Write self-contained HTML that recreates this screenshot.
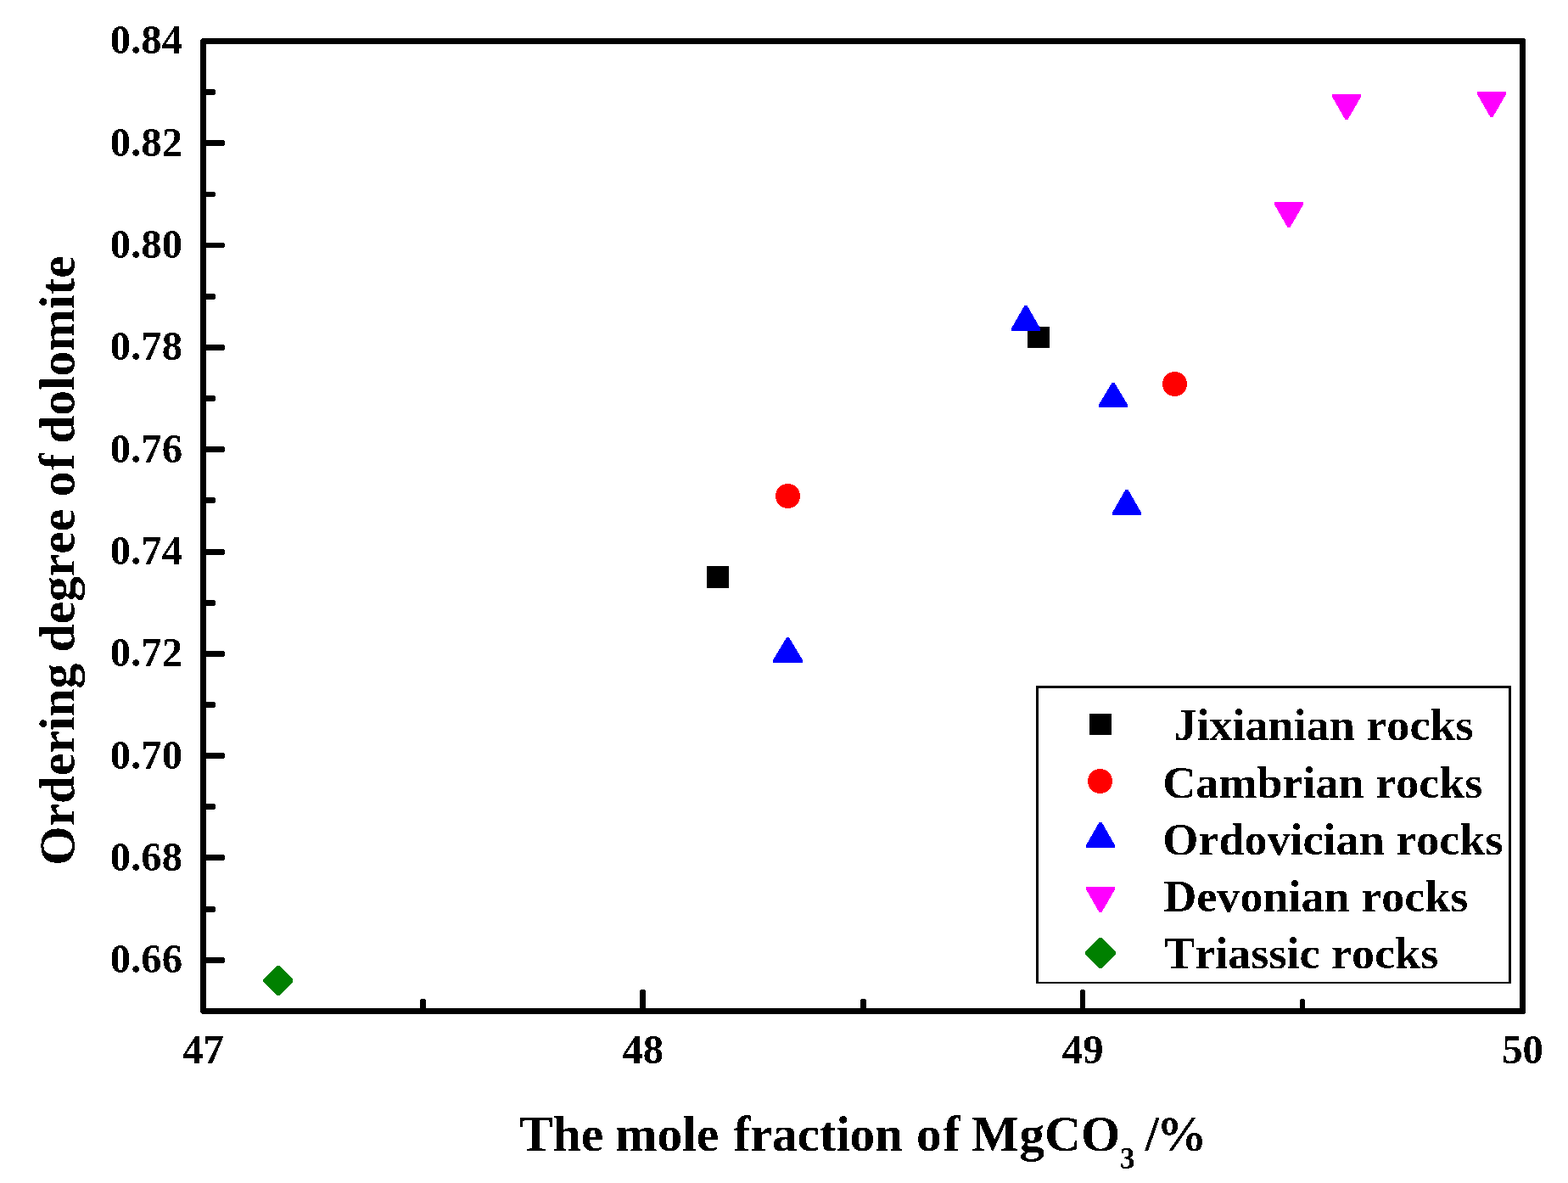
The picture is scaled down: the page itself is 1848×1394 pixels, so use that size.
<!DOCTYPE html>
<html lang="en"><head><meta charset="utf-8"><title>Ordering degree of dolomite vs mole fraction of MgCO3</title>
<style>
html,body{margin:0;padding:0;background:#fff;}
body{width:1848px;height:1394px;overflow:hidden;}
svg{display:block;}
text{font-family:"Liberation Serif",serif;font-weight:700;fill:#000;font-kerning:none;}
.tk{font-size:48.7px;}
.tt{font-size:59.5px;}
.lg{font-size:54.1px;}
.ax{fill:#000;shape-rendering:crispEdges;}
</style></head><body>
<svg width="1848" height="1394" viewBox="0 0 1848 1394">
<defs><filter id="bw" x="0" y="0" width="1848" height="1394" filterUnits="userSpaceOnUse" color-interpolation-filters="sRGB"><feComponentTransfer><feFuncA type="discrete" tableValues="0 1"/></feComponentTransfer></filter></defs>
<rect x="0" y="0" width="1848" height="1394" fill="#fff"/>
<g id="data" shape-rendering="crispEdges">
<rect x="833" y="667" width="26" height="26" fill="#000" shape-rendering="crispEdges"/>
<rect x="1211" y="385" width="26" height="25" fill="#000" shape-rendering="crispEdges"/>
<circle cx="928.5" cy="584.5" r="14.5" fill="#f00"/>
<circle cx="1384.5" cy="452.5" r="14.5" fill="#f00"/>
<polygon points="927,751 930,751 946,778 946,781 911,781 911,778" fill="#00f"/>
<polygon points="1207.5,360 1210.5,360 1226,387 1226,390 1192,390 1192,387" fill="#00f"/>
<polygon points="1310.5,451 1313.5,451 1329,477 1329,480 1295,480 1295,477" fill="#00f"/>
<polygon points="1326.5,577 1329.5,577 1345,604 1345,607 1311,607 1311,604" fill="#00f"/>
<polygon points="1502,238 1536,238 1536,241 1520.5,268 1517.5,268 1502,241" fill="#f0f"/>
<polygon points="1570,111 1604,111 1604,114 1588.5,141 1585.5,141 1570,114" fill="#f0f"/>
<polygon points="1741,108 1775,108 1775,111 1759.5,138 1756.5,138 1741,111" fill="#f0f"/>
<polygon points="326,1138 329,1138 345,1154 345,1157 329,1173 326,1173 310,1157 310,1154" fill="#008000"/>
</g>
<g id="legend" shape-rendering="crispEdges">
<path class="ax" fill-rule="evenodd" d="M1221 808H1781V1159H1221Z M1224 811V1157H1778V811Z"/>
<rect x="1284" y="841" width="26" height="25" fill="#000" shape-rendering="crispEdges"/>
<circle cx="1296.5" cy="920.5" r="14.5" fill="#f00"/>
<polygon points="1295.5,969 1298.5,969 1314,996 1314,999 1280,999 1280,996" fill="#00f"/>
<polygon points="1280,1045 1314,1045 1314,1048 1298.5,1075 1295.5,1075 1280,1048" fill="#f0f"/>
<polygon points="1295.5,1105 1298.5,1105 1315,1121.5 1315,1124.5 1298.5,1141 1295.5,1141 1279,1124.5 1279,1121.5" fill="#008000"/>
<g id="legendtext" filter="url(#bw)">
<text class="lg" transform="translate(1383.4,872.2) scale(1,0.96)" x="0" y="0">Jixianian rocks</text>
<text class="lg" transform="translate(1370.3,939.5) scale(1,0.96)" x="0" y="0">Cambrian rocks</text>
<text class="lg" transform="translate(1370.3,1006.8) scale(1,0.96)" x="0" y="0">Ordovician rocks</text>
<text class="lg" transform="translate(1371.3,1074) scale(1,0.96)" x="0" y="0">Devonian rocks</text>
<text class="lg" transform="translate(1372.2,1141) scale(1,0.96)" x="0" y="0">Triassic rocks</text>
</g>
</g>
<g id="axes" class="ax">
<path fill-rule="evenodd" d="M238 45H1796L1798 47V1193L1796 1195H238L236 1193V47Z M243 52V1188H1791V52Z"/>
<polygon points="243,105 252,105 254,106.5 254,110.5 252,112 243,112"/>
<polygon points="243,165 263,165 265,166.5 265,170.5 263,172 243,172"/>
<polygon points="243,226 252,226 254,227.5 254,230.5 252,232 243,232"/>
<polygon points="243,286 263,286 265,287.5 265,290.5 263,292 243,292"/>
<polygon points="243,346 252,346 254,347.5 254,351.5 252,353 243,353"/>
<polygon points="243,406 263,406 265,407.5 265,411.5 263,413 243,413"/>
<polygon points="243,466 252,466 254,467.5 254,471.5 252,473 243,473"/>
<polygon points="243,526 263,526 265,527.5 265,531.5 263,533 243,533"/>
<polygon points="243,586 252,586 254,587.5 254,591.5 252,593 243,593"/>
<polygon points="243,647 263,647 265,648.5 265,652.5 263,654 243,654"/>
<polygon points="243,707 252,707 254,708.5 254,712.5 252,714 243,714"/>
<polygon points="243,767 263,767 265,768.5 265,772.5 263,774 243,774"/>
<polygon points="243,827 252,827 254,828.5 254,832.5 252,834 243,834"/>
<polygon points="243,887 263,887 265,888.5 265,892.5 263,894 243,894"/>
<polygon points="243,947 252,947 254,948.5 254,952.5 252,954 243,954"/>
<polygon points="243,1007 263,1007 265,1008.5 265,1012.5 263,1014 243,1014"/>
<polygon points="243,1068 252,1068 254,1069.5 254,1073.5 252,1075 243,1075"/>
<polygon points="243,1128 263,1128 265,1129.5 265,1133.5 263,1135 243,1135"/>
<polygon points="495,1188 495,1179 496.5,1177 500.5,1177 502,1179 502,1188"/>
<polygon points="754,1188 754,1168 755.5,1166 759.5,1166 761,1168 761,1188"/>
<polygon points="1014,1188 1014,1179 1015.5,1177 1019.5,1177 1021,1179 1021,1188"/>
<polygon points="1273,1188 1273,1168 1274.5,1166 1277.5,1166 1279,1168 1279,1188"/>
<polygon points="1532,1188 1532,1179 1533.5,1177 1536.5,1177 1538,1179 1538,1188"/>
</g>
<g id="ticklabels" filter="url(#bw)">
<text class="tk" x="215" y="63" text-anchor="end">0.84</text>
<text class="tk" x="215" y="184" text-anchor="end">0.82</text>
<text class="tk" x="215" y="304" text-anchor="end">0.80</text>
<text class="tk" x="215" y="424" text-anchor="end">0.78</text>
<text class="tk" x="215" y="545" text-anchor="end">0.76</text>
<text class="tk" x="215" y="665" text-anchor="end">0.74</text>
<text class="tk" x="215" y="785" text-anchor="end">0.72</text>
<text class="tk" x="215" y="906" text-anchor="end">0.70</text>
<text class="tk" x="215" y="1026" text-anchor="end">0.68</text>
<text class="tk" x="215" y="1146" text-anchor="end">0.66</text>
<text class="tk" x="239.5" y="1253" text-anchor="middle">47</text>
<text class="tk" x="757.833" y="1253" text-anchor="middle">48</text>
<text class="tk" x="1276.17" y="1253" text-anchor="middle">49</text>
<text class="tk" x="1794.5" y="1253" text-anchor="middle">50</text>
</g>
<g id="titles" filter="url(#bw)">
<text class="tt"><tspan x="612" y="1355.8">The</tspan> <tspan x="725" y="1355.8">mole</tspan> <tspan x="864.5" y="1355.8" style="letter-spacing:-0.3px">fraction</tspan> <tspan x="1080" y="1355.8" style="letter-spacing:2px">of</tspan> <tspan x="1145" y="1355.8">MgCO</tspan><tspan x="1320" y="1377" style="font-size:35.5px">3</tspan> <tspan x="1349.4" y="1355.8">/</tspan><tspan x="1363" y="1355.8">%</tspan></text>
<text class="tt" transform="translate(87.4,0) rotate(-90)"><tspan x="-1019.7" y="0">Ordering</tspan> <tspan x="-768.4" y="0">degree</tspan> <tspan x="-585.3" y="0" style="letter-spacing:1.5px">of</tspan> <tspan x="-522.8" y="0">dolomite</tspan></text>
</g>
</svg>
</body></html>
